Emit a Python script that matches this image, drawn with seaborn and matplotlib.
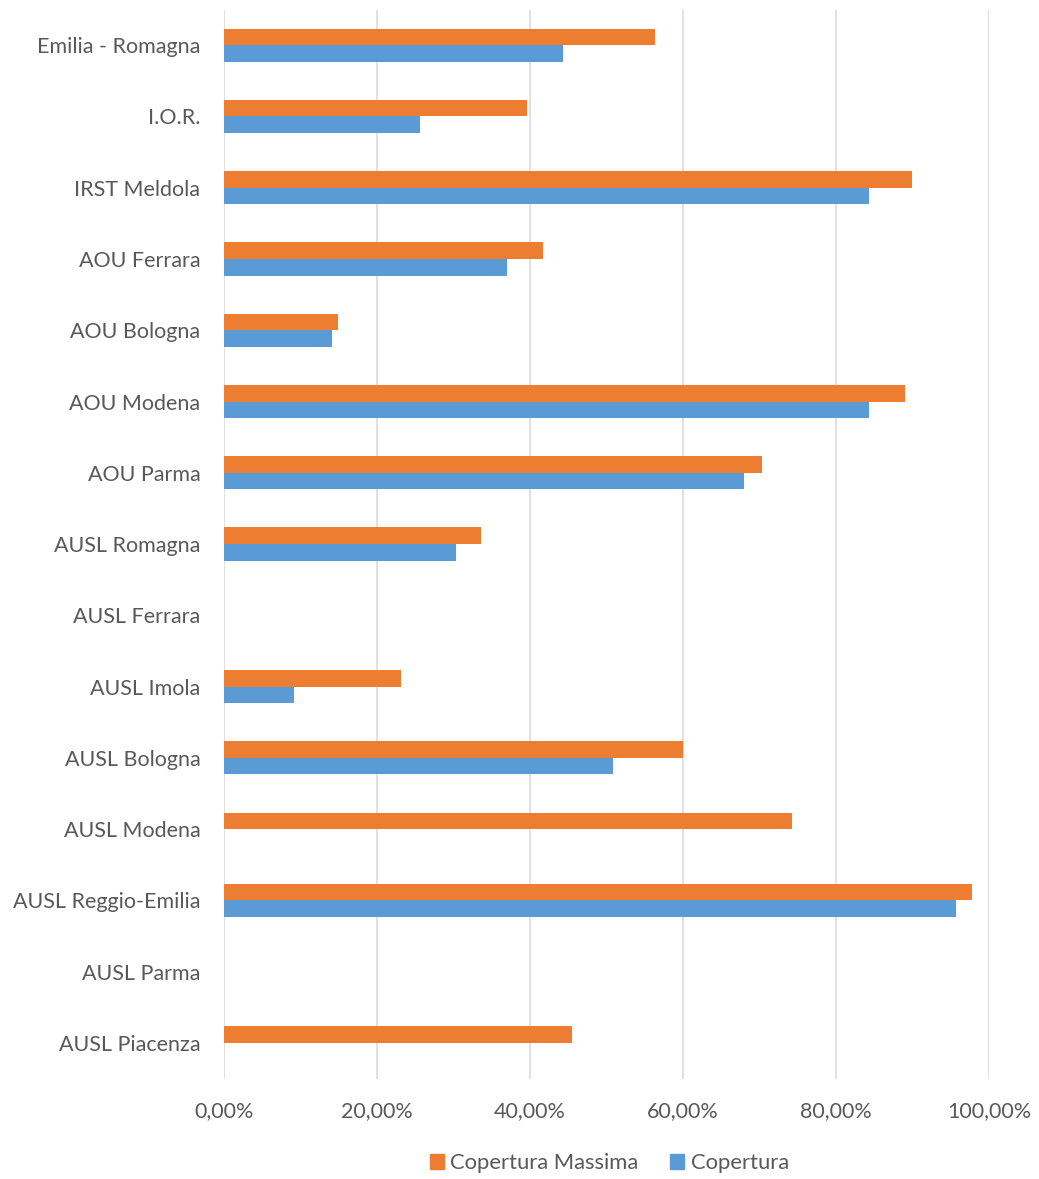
import pandas as pd
import matplotlib.pyplot as plt
import seaborn as sns
from matplotlib.patches import Patch
from matplotlib.ticker import FuncFormatter

# Aziende sanitarie (ordine dall'alto verso il basso)
aziende = [
    "Emilia - Romagna", "I.O.R.", "IRST Meldola", "AOU Ferrara", "AOU Bologna",
    "AOU Modena", "AOU Parma", "AUSL Romagna", "AUSL Ferrara", "AUSL Imola",
    "AUSL Bologna", "AUSL Modena", "AUSL Reggio-Emilia", "AUSL Parma", "AUSL Piacenza",
]
copertura_massima = [0.563, 0.396, 0.899, 0.417, 0.149, 0.890, 0.703, 0.336, 0.0, 0.231,
                     0.600, 0.742, 0.978, 0.0, 0.455]
copertura = [0.443, 0.256, 0.843, 0.370, 0.141, 0.843, 0.680, 0.303, 0.0, 0.091,
             0.509, 0.0, 0.957, 0.0, 0.0]
serie = ["Copertura Massima", "Copertura"]
colori = ["#ED7D31", "#5B9BD5"]
x_ticks = [0, 0.2, 0.4, 0.6, 0.8, 1.0]

sns.set_theme(style="white")
plt.rcParams['font.family'] = ['Lato', 'DejaVu Sans']

df = pd.DataFrame({
    "Azienda": aziende * 2,
    "Valore": copertura_massima + copertura,
    "Serie": [serie[0]] * len(aziende) + [serie[1]] * len(aziende),
})

fig = plt.figure(figsize=(10.39, 11.79), dpi=100)
ax = fig.add_axes([0.2156, 0.0852, 0.9519 - 0.2156, 0.9919 - 0.0852])

sns.barplot(data=df, x="Valore", y="Azienda", hue="Serie", hue_order=serie,
            order=aziende, palette=colori, saturation=1, width=0.465, linewidth=0,
            orient="h", legend=False, ax=ax)

ax.set_xlim(0, 1.0)
ax.set_xticks(x_ticks)
ax.xaxis.set_major_formatter(FuncFormatter(lambda v, p: f"{v * 100:.2f}%".replace(".", ",")))
ax.grid(axis="x", color="#D9D9D9", linewidth=1.1)
ax.set_axisbelow(True)
for s in ax.spines.values():
    s.set_visible(False)
ax.set_xlabel("")
ax.set_ylabel("")
ax.tick_params(axis="both", length=0, labelsize=15.5, labelcolor="#595959")
ax.tick_params(axis="y", pad=17)
ax.tick_params(axis="x", pad=16)

handles = [Patch(color=c, label=l) for c, l in zip(colori, serie)]
fig.legend(handles=handles, loc="center", bbox_to_anchor=(0.5866, 1 - 1163 / 1179), ncol=2,
           frameon=False, fontsize=15.8, handlelength=0.64, handleheight=0.64,
           handletextpad=0.3, columnspacing=1.45, labelcolor="#595959")

fig.savefig("out.png", dpi=100)
